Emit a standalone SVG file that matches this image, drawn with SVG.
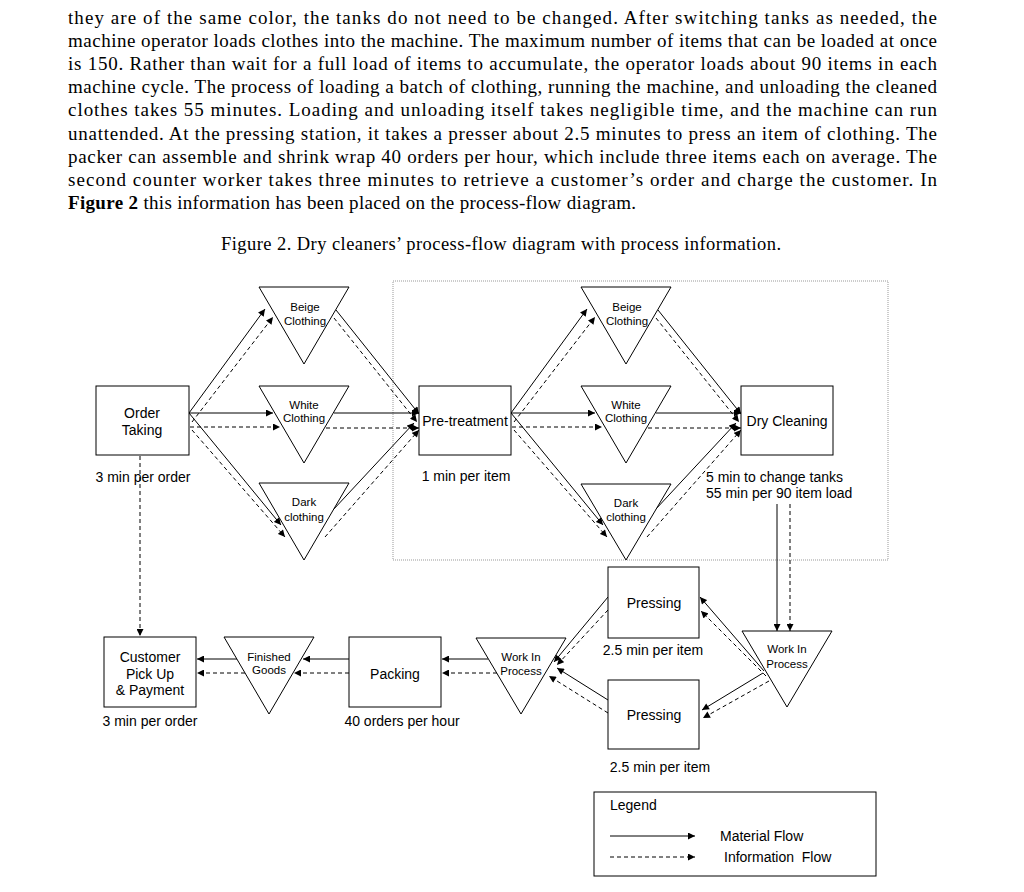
<svg xmlns="http://www.w3.org/2000/svg" width="1024" height="892" viewBox="0 0 1024 892">
<defs>
<marker id="ah" viewBox="0 0 10 10" markerWidth="8" markerHeight="7" refX="10" refY="5" orient="auto" markerUnits="userSpaceOnUse">
<path d="M0,0 L10,5 L0,10 z" fill="#000"/>
</marker>
</defs>
<style>
.para{font-family:"Liberation Serif","Times New Roman",serif;font-size:19px;fill:#000}
.cap{font-family:"Liberation Serif","Times New Roman",serif;font-size:18.5px;fill:#000}
.box{fill:#fff;stroke:#000;stroke-width:1}
.tri{fill:#fff;stroke:#000;stroke-width:1}
.lbl{font-family:"Liberation Sans",Arial,sans-serif;font-size:14px;fill:#000;text-anchor:middle}
.note{font-family:"Liberation Sans",Arial,sans-serif;font-size:14px;fill:#000}
.tl{font-family:"Liberation Sans",Arial,sans-serif;font-size:11.5px;fill:#000;text-anchor:middle}
.m{stroke:#000;stroke-width:1;fill:none;marker-end:url(#ah)}
.i{stroke:#000;stroke-width:1;fill:none;stroke-dasharray:4 3;marker-end:url(#ah)}
.frame{fill:none;stroke:#999;stroke-width:1;stroke-dasharray:1 1}
</style>
<rect width="1024" height="892" fill="#fff"/>

<g id="paragraph">
<text class="para" x="68" y="24" textLength="869" lengthAdjust="spacing">they are of the same color, the tanks do not need to be changed. After switching tanks as needed, the</text>
<text class="para" x="68" y="47" textLength="869" lengthAdjust="spacing">machine operator loads clothes into the machine. The maximum number of items that can be loaded at once</text>
<text class="para" x="68" y="70" textLength="869" lengthAdjust="spacing">is 150. Rather than wait for a full load of items to accumulate, the operator loads about 90 items in each</text>
<text class="para" x="68" y="93" textLength="869" lengthAdjust="spacing">machine cycle. The process of loading a batch of clothing, running the machine, and unloading the cleaned</text>
<text class="para" x="68" y="116" textLength="869" lengthAdjust="spacing">clothes takes 55 minutes. Loading and unloading itself takes negligible time, and the machine can run</text>
<text class="para" x="68" y="140" textLength="869" lengthAdjust="spacing">unattended. At the pressing station, it takes a presser about 2.5 minutes to press an item of clothing. The</text>
<text class="para" x="68" y="163" textLength="869" lengthAdjust="spacing">packer can assemble and shrink wrap 40 orders per hour, which include three items each on average. The</text>
<text class="para" x="68" y="186" textLength="869" lengthAdjust="spacing">second counter worker takes three minutes to retrieve a customer’s order and charge the customer. In</text>
<text class="para" x="68" y="209" textLength="568" lengthAdjust="spacing"><tspan font-weight="bold">Figure 2</tspan> this information has been placed on the process-flow diagram.</text>
</g>

<g id="caption">
<text class="cap" x="221" y="250" textLength="560" lengthAdjust="spacing">Figure 2. Dry cleaners’ process-flow diagram with process information.</text>
</g>

<rect id="frame" class="frame" x="393" y="281" width="495" height="279"/>

<g id="connectors">
<line class="m" x1="189" y1="413" x2="265" y2="309"/>
<line class="i" x1="192" y1="422" x2="273" y2="317"/>
<line class="m" x1="189" y1="413" x2="273" y2="413"/>
<line class="i" x1="190" y1="427" x2="280" y2="427"/>
<line class="m" x1="189" y1="413" x2="281" y2="525"/>
<line class="i" x1="192" y1="430" x2="285" y2="537"/>
<line class="m" x1="336" y1="310" x2="419" y2="414"/>
<line class="i" x1="334" y1="318" x2="417" y2="422"/>
<line class="m" x1="334" y1="413" x2="419" y2="413"/>
<line class="i" x1="326" y1="428" x2="419" y2="428"/>
<line class="m" x1="333" y1="510" x2="414" y2="423"/>
<line class="i" x1="325" y1="537" x2="419" y2="430"/>
<line class="m" x1="511" y1="413" x2="587" y2="309"/>
<line class="i" x1="514" y1="422" x2="595" y2="317"/>
<line class="m" x1="511" y1="413" x2="595" y2="413"/>
<line class="i" x1="512" y1="427" x2="602" y2="427"/>
<line class="m" x1="511" y1="413" x2="603" y2="525"/>
<line class="i" x1="514" y1="430" x2="607" y2="537"/>
<line class="m" x1="658" y1="310" x2="741" y2="414"/>
<line class="i" x1="656" y1="318" x2="739" y2="422"/>
<line class="m" x1="656" y1="413" x2="741" y2="413"/>
<line class="i" x1="648" y1="428" x2="741" y2="428"/>
<line class="m" x1="655" y1="510" x2="736" y2="423"/>
<line class="i" x1="647" y1="537" x2="741" y2="430"/>
<line class="m" x1="777" y1="504" x2="777" y2="631"/>
<line class="i" x1="790" y1="504" x2="790" y2="631"/>
<line class="m" x1="764" y1="671" x2="700" y2="597"/>
<line class="i" x1="766" y1="676" x2="701" y2="611"/>
<line class="m" x1="763" y1="673" x2="702" y2="710"/>
<line class="i" x1="769" y1="681" x2="703" y2="718"/>
<line class="m" x1="608" y1="597" x2="554" y2="662"/>
<line class="i" x1="608" y1="610" x2="557" y2="665"/>
<line class="m" x1="608" y1="700" x2="557" y2="668"/>
<line class="i" x1="608" y1="713" x2="549" y2="676"/>
<line class="m" x1="488" y1="659" x2="442" y2="659"/>
<line class="i" x1="497" y1="673" x2="442" y2="673"/>
<line class="m" x1="349" y1="659" x2="303" y2="659"/>
<line class="i" x1="349" y1="673" x2="294" y2="673"/>
<line class="m" x1="237" y1="659" x2="197" y2="659"/>
<line class="i" x1="245" y1="673" x2="197" y2="673"/>
<line class="i" x1="140" y1="456" x2="140" y2="636"/>
</g>

<g id="order-taking">
<rect class="box" x="96" y="386" width="93" height="69"/>
<text class="lbl" x="142" y="418">Order</text>
<text class="lbl" x="142" y="435">Taking</text>
<text class="lbl" x="143" y="482">3 min per order</text>
</g>

<g id="beige-1">
<polygon class="tri" points="259,287 349,287 304,364"/>
<text class="tl" x="305" y="311">Beige</text>
<text class="tl" x="305" y="325">Clothing</text>
</g>
<g id="white-1">
<polygon class="tri" points="259,386 349,386 304,463"/>
<text class="tl" x="304" y="409">White</text>
<text class="tl" x="304" y="422">Clothing</text>
</g>
<g id="dark-1">
<polygon class="tri" points="259,483 349,483 304,560"/>
<text class="tl" x="304" y="506">Dark</text>
<text class="tl" x="304" y="521">clothing</text>
</g>

<g id="pre-treatment">
<rect class="box" x="419" y="386" width="92" height="69"/>
<text class="lbl" x="465" y="426">Pre-treatment</text>
<text class="lbl" x="466" y="481">1 min per item</text>
</g>

<g id="beige-2">
<polygon class="tri" points="581,287 671,287 626,364"/>
<text class="tl" x="627" y="311">Beige</text>
<text class="tl" x="627" y="325">Clothing</text>
</g>
<g id="white-2">
<polygon class="tri" points="581,386 671,386 626,463"/>
<text class="tl" x="626" y="409">White</text>
<text class="tl" x="626" y="422">Clothing</text>
</g>
<g id="dark-2">
<polygon class="tri" points="581,484 671,484 626,560"/>
<text class="tl" x="626" y="507">Dark</text>
<text class="tl" x="626" y="521">clothing</text>
</g>

<g id="dry-cleaning">
<rect class="box" x="741" y="386" width="92" height="69"/>
<text class="lbl" x="787" y="426">Dry Cleaning</text>
<text class="note" x="706" y="482">5 min to change tanks</text>
<text class="note" x="706" y="498">55 min per 90 item load</text>
</g>

<g id="wip-right">
<polygon class="tri" points="742,631 832,631 787,707"/>
<text class="tl" x="787" y="653">Work In</text>
<text class="tl" x="787" y="668">Process</text>
</g>

<g id="pressing-1">
<rect class="box" x="608" y="567" width="91" height="71"/>
<text class="lbl" x="654" y="608">Pressing</text>
<text class="lbl" x="653" y="655">2.5 min per item</text>
</g>
<g id="pressing-2">
<rect class="box" x="608" y="680" width="91" height="69"/>
<text class="lbl" x="654" y="720">Pressing</text>
<text class="lbl" x="660" y="772">2.5 min per item</text>
</g>

<g id="wip-left">
<polygon class="tri" points="476,638 566,638 521,714"/>
<text class="tl" x="521" y="661">Work In</text>
<text class="tl" x="521" y="675">Process</text>
</g>

<g id="packing">
<rect class="box" x="349" y="637" width="92" height="70"/>
<text class="lbl" x="395" y="679">Packing</text>
<text class="lbl" x="402" y="726">40 orders per hour</text>
</g>

<g id="finished-goods">
<polygon class="tri" points="224,637 314,637 269,714"/>
<text class="tl" x="269" y="661">Finished</text>
<text class="tl" x="269" y="674">Goods</text>
</g>

<g id="customer">
<rect class="box" x="104" y="637" width="92" height="70"/>
<text class="lbl" x="150" y="662">Customer</text>
<text class="lbl" x="150" y="679">Pick Up</text>
<text class="lbl" x="150" y="695">&amp; Payment</text>
<text class="lbl" x="150" y="726">3 min per order</text>
</g>

<g id="legend">
<rect class="box" x="594" y="792" width="282" height="84"/>
<text class="note" x="610" y="810">Legend</text>
<line class="m" x1="610" y1="836" x2="695" y2="836"/>
<line class="i" x1="610" y1="857" x2="695" y2="857"/>
<text class="note" x="720" y="841" font-size="13">Material Flow</text>
<text class="note" x="724" y="862" font-size="13" xml:space="preserve">Information  Flow</text>
</g>
</svg>
